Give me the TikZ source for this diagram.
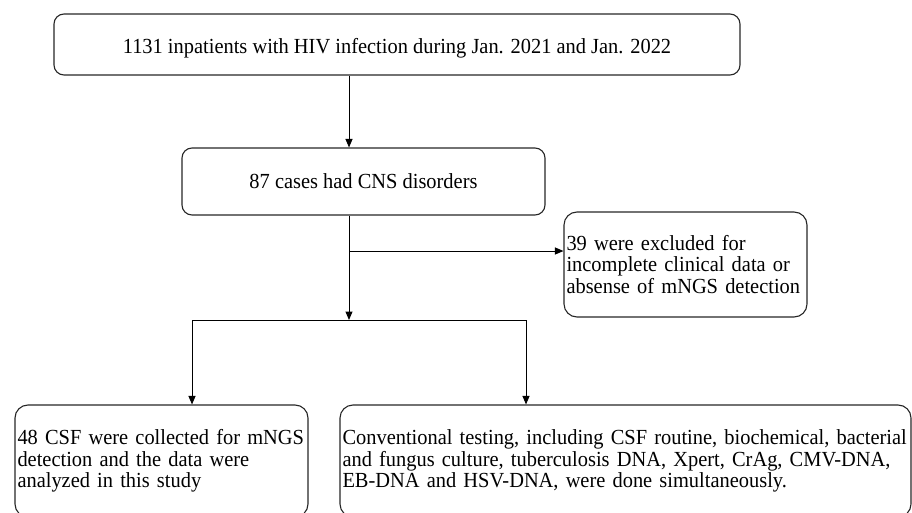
\documentclass[tikz,border=0pt]{standalone}
\usepackage{fontspec}
\setmainfont[FakeStretch=0.95]{Liberation Serif}
\usetikzlibrary{arrows.meta}
\begin{document}
\begin{tikzpicture}[x=1pt,y=-1pt,
  box/.style={draw=black!85, line width=1.1pt, rounded corners=10pt, inner xsep=2.5pt, inner ysep=0pt,
    font=\fontsize{21.5}{21.5}\selectfont},
  lbox/.style={box, align=left, rounded corners=13pt},
  arr/.style={-{Triangle[length=8.5pt,width=7pt]}, line width=1pt},
  ln/.style={line width=1pt}]
\useasboundingbox (0,0) rectangle (912,513);
\node[box, minimum width=686pt, minimum height=61pt, text height=23pt, text depth=5pt] (a) at (397,44.5)
  {1131 inpatients with HIV infection during Jan. 2021 and Jan. 2022};
\node[box, minimum width=363pt, minimum height=67pt] (b) at (363.5,181.5)
  {87 cases had CNS disorders};
\node[lbox, text width=238pt, minimum height=105pt] (c) at (685.5,264.5)
  {39 were excluded for\\incomplete clinical data or\\absense of mNGS detection};
\node[lbox, text width=288pt, minimum height=112pt] (d) at (161.5,461)
  {48 CSF were collected for mNGS\\detection and the data were\\analyzed in this study};
\node[lbox, text width=566pt, minimum height=112pt] (e) at (625.5,461)
  {Conventional testing, including CSF routine, biochemical, bacterial\\and fungus culture, tuberculosis DNA, Xpert, CrAg, CMV-DNA,\\EB-DNA and HSV-DNA, were done simultaneously.};
\coordinate (xl) at (349,0);
\coordinate (mid) at (349,320);
\coordinate (br) at (349,251);
\coordinate (hl) at (192,320);
\coordinate (hr) at (526,320);
\draw[arr] (a.south -| xl) -- (b.north -| xl);
\draw[arr] (b.south -| xl) -- (mid);
\draw[arr] (br) -- (br -| c.west);
\draw[ln] (hl) -- (hr);
\draw[arr] (hl) -- (hl |- d.north);
\draw[arr] (hr) -- (hr |- e.north);
\end{tikzpicture}
\end{document}
